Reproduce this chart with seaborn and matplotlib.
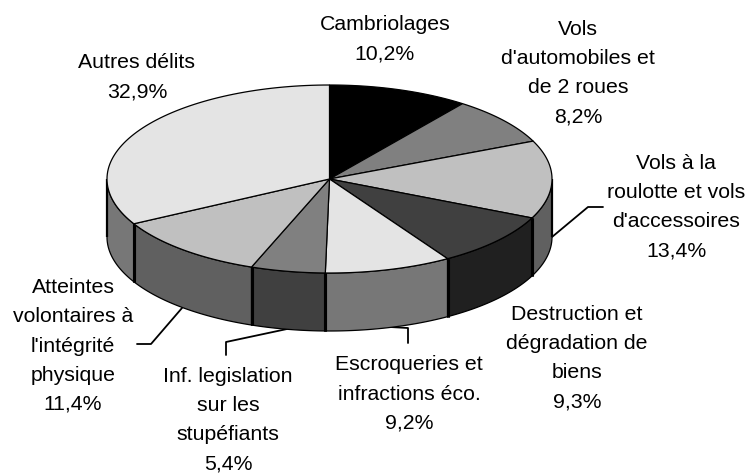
import numpy as np
import matplotlib
matplotlib.use("Agg")
import matplotlib.pyplot as plt
import seaborn as sns
from matplotlib.patches import Polygon

sns.set_theme(style="white")
plt.rcParams['font.family'] = ['Liberation Sans', 'DejaVu Sans']

labels = ["Cambriolages\n10,2%", "Vols\nd'automobiles et\nde 2 roues\n8,2%",
          "Vols à la\nroulotte et vols\nd'accessoires\n13,4%",
          "Destruction et\ndégradation de\nbiens\n9,3%",
          "Escroqueries et\ninfractions éco.\n9,2%",
          "Inf. legislation\nsur les\nstupéfiants\n5,4%",
          "Atteintes\nvolontaires à\nl'intégrité\nphysique\n11,4%",
          "Autres délits\n32,9%"]
values = [10.2, 8.2, 13.4, 9.3, 9.2, 5.4, 11.4, 32.9]
top_colors = ["#000000", "#808080", "#c0c0c0", "#404040", "#e4e4e4", "#808080", "#c0c0c0", "#e4e4e4"]
side_colors = ["#000000", "#404040", "#606060", "#202020", "#777777", "#404040", "#606060", "#777777"]
label_x = [385, 578, 676, 577, 409, 228, 73, 137]
label_y = [39, 73, 207, 358, 394, 420, 346, 77]

W, H = 750, 473
fig = plt.figure(figsize=(W / 100, H / 100), dpi=100)
ax = fig.add_axes([0, 0, 1, 1])
ax.set_xlim(0, W)
ax.set_ylim(H, 0)
ax.axis("off")

cx, cy, rx, ry, depth = 329.5, 179, 222.5, 94, 58
edges = np.concatenate([[0], np.cumsum(values)]) / sum(values) * 2 * np.pi


def pt(t, dy=0):
    return cx + rx * np.sin(t), cy - ry * np.cos(t) + dy


# leader lines sit behind the pie
for (xs, ys) in [([552, 588, 603], [237, 207, 207]),
                 ([390, 408, 408], [327, 328, 343]),
                 ([287, 226, 226], [329, 342, 355]),
                 ([182, 151, 137], [308, 344, 344])]:
    ax.plot(xs, ys, color="black", lw=1.3, zorder=1)

# side walls: only the front half
for i in range(len(values)):
    a, b = max(edges[i], np.pi / 2), min(edges[i + 1], 3 * np.pi / 2)
    if b <= a:
        continue
    t = np.linspace(a, b, 60)
    x, y = pt(t)
    x2, y2 = pt(t[::-1], depth)
    ax.add_patch(Polygon(np.r_[np.c_[x, y], np.c_[x2, y2]], fc=side_colors[i], ec="black", lw=0.9, zorder=2))
    for e in (edges[i], edges[i + 1]):
        if np.pi / 2 < e < 3 * np.pi / 2:
            ex, ey = pt(e)
            ax.plot([ex, ex], [ey, ey + depth], color="black", lw=2.2, zorder=3, solid_capstyle="butt")

# outer edges of the wall
for e in (np.pi / 2, 3 * np.pi / 2):
    ex, ey = pt(e)
    ax.plot([ex, ex], [ey, ey + depth], color="black", lw=1.6, zorder=3, solid_capstyle="butt")

# top face
for i in range(len(values)):
    t = np.linspace(edges[i], edges[i + 1], 80)
    x, y = pt(t)
    ax.add_patch(Polygon(np.r_[[[cx, cy]], np.c_[x, y]], fc=top_colors[i], ec="black", lw=0.9, zorder=4))

for s, x, y in zip(labels, label_x, label_y):
    ax.text(x, y, s, ha="center", va="center", fontsize=15.3, color="black", linespacing=1.67, zorder=5)

fig.savefig("out.png", dpi=100, facecolor="white")
